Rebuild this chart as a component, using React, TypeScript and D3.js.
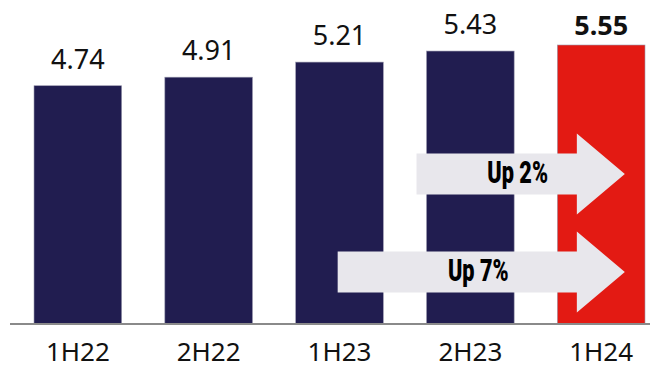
import React, { useEffect, useRef } from "react";
import * as d3 from "d3";

// chart data
const periods = ["1H22", "2H22", "1H23", "2H23", "1H24"];
const values = [4.74, 4.91, 5.21, 5.43, 5.55];
const highlight = "1H24";

// growth callouts: from which period to the latest one
const callouts = [
	{ from: "2H23", label: "Up 2%" },
	{ from: "1H23", label: "Up 7%" },
];

const NAVY = "#211d50";
const RED = "#e31a13";
const ARROW = "#e8e7ec";

export default function App() {
	const svgRef = useRef<SVGSVGElement | null>(null);

	useEffect(() => {
		if (!svgRef.current) return;
		const width = 650;
		const baseY = 324;

		const svg = d3.select(svgRef.current);
		svg.selectAll("*").remove();

		const x = d3.scaleBand<string>().domain(periods).range([34, 645]).paddingInner(0.33).paddingOuter(0);
		const y = d3.scaleLinear().domain([0, 5.55]).range([baseY, 45]);

		const rows = periods.map((p, i) => ({ p, v: values[i] }));

		// bars
		svg
			.append("g")
			.selectAll("rect")
			.data(rows)
			.enter()
			.append("rect")
			.attr("x", (d) => x(d.p)!)
			.attr("y", (d) => y(d.v))
			.attr("width", x.bandwidth())
			.attr("height", (d) => baseY - y(d.v))
			.attr("fill", (d) => (d.p === highlight ? RED : NAVY))
			.attr("stroke", "#9c9bb0")
			.attr("stroke-width", 0.6);

		// value labels
		svg
			.append("g")
			.selectAll("text")
			.data(rows)
			.enter()
			.append("text")
			.attr("x", (d) => x(d.p)! + x.bandwidth() / 2)
			.attr("y", (d) => y(d.v) - (d.p === highlight ? 10 : 17))
			.attr("text-anchor", "middle")
			.attr("font-family", "'Noto Sans', 'DejaVu Sans', sans-serif")
			.attr("font-size", 27)
			.attr("font-weight", (d) => (d.p === highlight ? 700 : 400))
			.attr("fill", "#111")
			.text((d) => d.v.toFixed(2));

		// baseline
		svg
			.append("line")
			.attr("x1", 10)
			.attr("x2", width)
			.attr("y1", baseY)
			.attr("y2", baseY)
			.attr("stroke", "#8a8a8a")
			.attr("stroke-width", 2);

		// category labels
		svg
			.append("g")
			.selectAll("text")
			.data(periods)
			.enter()
			.append("text")
			.attr("x", (d) => x(d)! + x.bandwidth() / 2)
			.attr("y", 361)
			.attr("text-anchor", "middle")
			.attr("font-family", "'Noto Sans', 'DejaVu Sans', sans-serif")
			.attr("font-size", 26)
			.attr("fill", "#111")
			.text((d) => d);

		// arrows
		const tipX = x(highlight)! + x.bandwidth() * 0.77;
		const headX = tipX - 48;
		const starts = [x("2H23")! - 10, x("1H23")! + 42];
		const mids = [174, 272];
		const bodyH = 41;
		const headH = 81;

		callouts.forEach((c, i) => {
			const x0 = starts[i];
			const cy = mids[i];
			const pts: [number, number][] = [
				[x0, cy - bodyH / 2],
				[headX, cy - bodyH / 2],
				[headX, cy - headH / 2],
				[tipX, cy],
				[headX, cy + headH / 2],
				[headX, cy + bodyH / 2],
				[x0, cy + bodyH / 2],
			];
			svg
				.append("path")
				.attr("d", d3.line()(pts) + "Z")
				.attr("fill", ARROW);
			// condensed heavy label
			const cx = (x0 + tipX) / 2 - 3;
			svg
				.append("text")
				.attr("transform", `translate(${cx},${cy + 9}) scale(0.7,1)`)
				.attr("text-anchor", "middle")
				.attr("font-family", "Roboto, 'Liberation Sans', sans-serif")
				.attr("font-size", 31)
				.attr("font-weight", 900)
				.attr("fill", "#000")
				.text(c.label);
		});
	}, []);

	return (
		<svg
			ref={svgRef}
			width={650}
			height={368}
			style={{ position: "fixed", left: 0, top: 0, background: "#fff" }}
		/>
	);
}
